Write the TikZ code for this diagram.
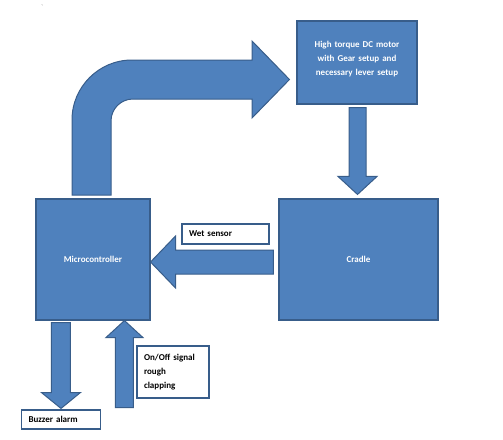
\documentclass[tikz,border=0pt]{standalone}
\usepackage{fontspec}
\setmainfont{Carlito}
\usetikzlibrary{positioning, calc}

\definecolor{boxblue}{HTML}{4F81BD}
\definecolor{edgeblue}{HTML}{385D8A}

\begin{document}
\begin{tikzpicture}[
    x=1pt, y=-1pt,
    block/.style={
        rectangle,
        draw=edgeblue,
        fill=boxblue,
        line width=1.1pt,
        text=white,
        font=\fontsize{9}{14}\selectfont\bfseries,
        align=center
    },
    tag/.style={
        rectangle,
        draw=edgeblue,
        fill=white,
        line width=1.1pt,
        text=black,
        font=\fontsize{9}{14}\selectfont\bfseries,
        align=left,
        inner xsep=7pt
    },
    bigarrow/.style={
        fill=boxblue,
        draw=edgeblue,
        line width=1pt,
        line join=miter
    }
]
    \useasboundingbox (0,0) rectangle (503,439);

    % -- Stray mark --
    \node[font=\tiny, inner sep=0pt] (mark) at (42,7) {\textasciigrave};

    % -- Main blocks --
    \node[block, minimum width=120, minimum height=83, text width=112] (motor) at (357,62.5)
        {High torque DC motor\\with Gear setup and\\necessary lever setup\\[-5pt]~};
    \node[block, minimum width=159, minimum height=121] (cradle) at (358.5,259.5) {Cradle};
    \node[block, minimum width=114, minimum height=121] (micro) at (93,259.5) {Microcontroller};

    % -- Labels --
    \node[tag, minimum width=87, minimum height=20, text width=73] (wet) at (225.5,234) {Wet sensor};
    \node[tag, minimum width=79, minimum height=19, text width=65] (buzzer) at (61,419.5) {Buzzer alarm};
    \node[tag, minimum width=72, minimum height=52, text width=58] (onoff) at (173,372)
        {On/Off signal\\rough\\clapping};

    % Curved arrow: microcontroller -> motor
    \draw[bigarrow] (72,195) -- (72,120) arc[start angle=180, end angle=270, radius=60]
        -- (252,60) -- (252,41) -- ($(motor.west)+(-7,17)$) -- (252,118) -- (252,99)
        -- (133,99) arc[start angle=270, end angle=180, radius=22] -- (111,195) -- cycle;

    % Motor -> cradle
    \coordinate (m0) at ($(motor.south)+(0.5,3)$);
    \coordinate (m1) at ($(cradle.north)+(-1,-4)$);
    \draw[bigarrow] ($(m0)+(-8.5,0)$) -- ($(m0)+(8.5,0)$) -- ($(m1)+(8.5,-18)$) -- ($(m1)+(19.5,-18)$)
        -- (m1) -- ($(m1)+(-19.5,-18)$) -- ($(m1)+(-8.5,-18)$) -- cycle;

    % Cradle -> microcontroller
    \coordinate (c0) at ($(cradle.west)+(-5,2.5)$);
    \coordinate (c1) at ($(micro.east)+(0,2.5)$);
    \draw[bigarrow] ($(c0)+(0,-12)$) -- ($(c0)+(0,12)$) -- ($(c1)+(25,12)$) -- ($(c1)+(25,26)$)
        -- (c1) -- ($(c1)+(25,-26)$) -- ($(c1)+(25,-12)$) -- cycle;

    % Microcontroller -> buzzer
    \coordinate (b0) at ($(micro.south west)+(25.5,2)$);
    \coordinate (b1) at ($(buzzer.north)+(0,-1)$);
    \draw[bigarrow] ($(b0)+(-9.5,0)$) -- ($(b0)+(9.5,0)$) -- ($(b0)+(9.5,70)$) -- ($(b0)+(19.5,70)$)
        -- (b1) -- ($(b0)+(-19.5,70)$) -- ($(b0)+(-9.5,70)$) -- cycle;

    % On/Off signal -> microcontroller
    \coordinate (s1) at ($(micro.south west)+(89,0)$);
    \coordinate (s0) at ($(s1)+(0,87)$);
    \draw[bigarrow] ($(s0)+(-9,0)$) -- ($(s0)+(9,0)$) -- ($(s1)+(9,17)$) -- ($(s1)+(18.5,17)$)
        -- (s1) -- ($(s1)+(-18.5,17)$) -- ($(s1)+(-9,17)$) -- cycle;

\end{tikzpicture}
\end{document}
